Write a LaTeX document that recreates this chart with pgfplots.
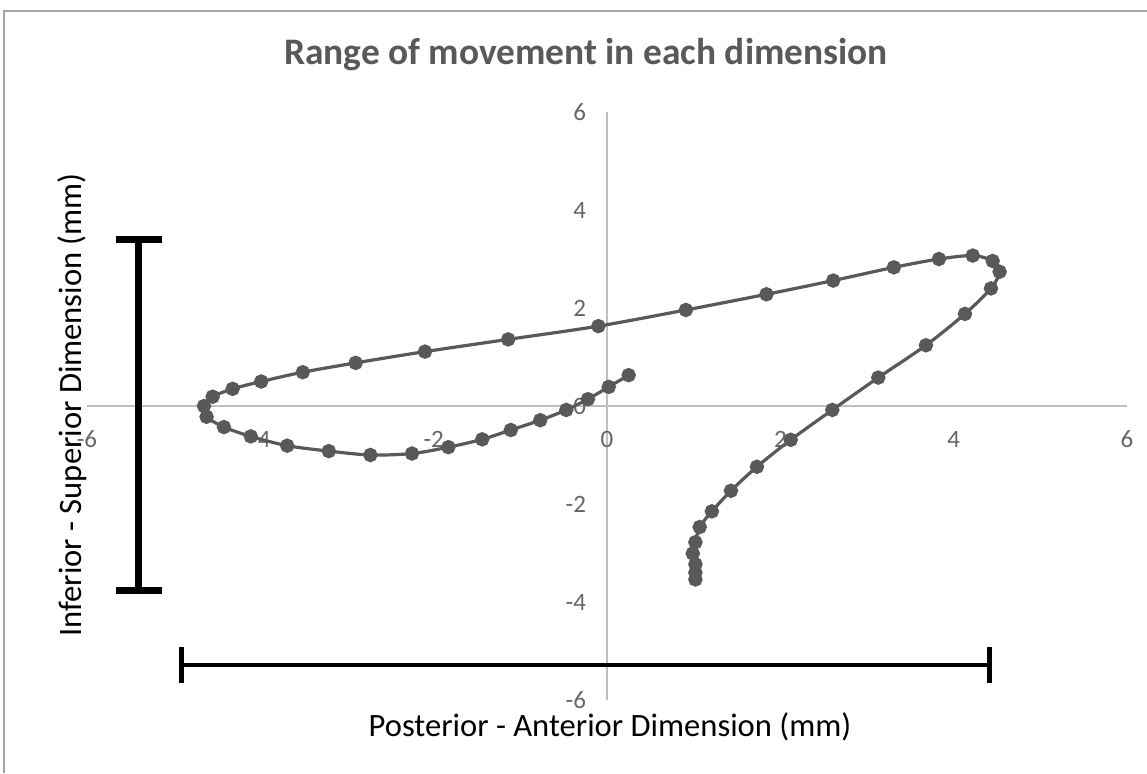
\documentclass[border=0pt]{standalone}
\usepackage{pgfplots}
\pgfplotsset{compat=1.18}
\usepackage{fontspec}
\setmainfont{Carlito}
\definecolor{txtgray}{HTML}{595959}
\definecolor{tickgray}{HTML}{666666}
\definecolor{axgray}{HTML}{BFBFBF}
\definecolor{datgray}{HTML}{595959}
\definecolor{bordergray}{HTML}{A6A6A6}
\begin{document}
\begin{tikzpicture}[x=1pt,y=1pt]
\useasboundingbox (0,0) rectangle (573.5,386.5);
\fill[white] (0,0) rectangle (573.5,386.5);
\draw[bordergray, line width=0.8pt] (2,0) -- (2,381) -- (573.5,381);
\begin{axis}[
  at={(43.5pt,36.5pt)}, anchor=south west,
  scale only axis, width=520pt, height=294pt,
  xmin=-6, xmax=6, ymin=-6, ymax=6,
  axis lines=middle,
  axis line style={-, axgray, line width=1pt},
  xtick={-6,-4,...,6}, ytick={-6,-4,...,6},
  major tick length=0pt,
  hide obscured x ticks=false, hide obscured y ticks=false,
  tick label style={font=\fontsize{12.5}{14}\selectfont, text=tickgray},
  /pgf/number format/assume math mode=true,
  xticklabel style={anchor=north, yshift=-9pt},
  yticklabel style={anchor=east, xshift=-7pt},
  clip=false,
]
\addplot[datgray, line width=1.6pt, smooth, tension=0.5, mark=*, mark size=2.8pt, mark options={datgray, fill=datgray}] coordinates {
(1.02,-3.54) (1.02,-3.40) (1.02,-3.23) (0.99,-3.01) (1.02,-2.78) (1.07,-2.47)
(1.21,-2.15) (1.43,-1.73) (1.73,-1.24) (2.12,-0.69) (2.60,-0.08) (3.13,0.58)
(3.68,1.24) (4.13,1.88) (4.43,2.40) (4.53,2.74) (4.45,2.96) (4.22,3.07)
(3.83,3.00) (3.31,2.83) (2.61,2.56) (1.84,2.28) (0.91,1.96) (-0.10,1.63)
(-1.14,1.36) (-2.10,1.11) (-2.90,0.88) (-3.51,0.69) (-3.99,0.50) (-4.32,0.35)
(-4.55,0.19) (-4.65,0.00) (-4.62,-0.22) (-4.42,-0.43) (-4.11,-0.62) (-3.69,-0.81)
(-3.21,-0.92) (-2.73,-1.00) (-2.25,-0.97) (-1.83,-0.84) (-1.44,-0.68) (-1.11,-0.49)
(-0.77,-0.29) (-0.47,-0.08) (-0.22,0.14) (0.02,0.39) (0.25,0.63)
};
% vertical range bar
\addplot[black, line width=3.5pt, mark=none] coordinates {(-5.41,3.39) (-5.41,-3.76)};
\addplot[black, line width=3.5pt, mark=none] coordinates {(-5.66,3.39) (-5.14,3.39)};
\addplot[black, line width=3.5pt, mark=none] coordinates {(-5.66,-3.76) (-5.14,-3.76)};
% horizontal range bar
\addplot[black, line width=2pt, mark=none] coordinates {(-4.91,-5.29) (4.41,-5.29)};
\addplot[black, line width=2.5pt, mark=none] coordinates {(-4.91,-4.92) (-4.91,-5.65)};
\addplot[black, line width=2.5pt, mark=none] coordinates {(4.41,-4.92) (4.41,-5.65)};
\end{axis}
\node[text=txtgray, font=\fontsize{18.7}{22}\selectfont\bfseries] at (293,359) {Range of movement in each dimension};
\node[text=black, font=\fontsize{16.3}{19}\selectfont] at (305,23) {Posterior - Anterior Dimension (mm)};
\node[text=black, font=\fontsize{16.3}{19}\selectfont, rotate=90] at (36,184) {Inferior - Superior Dimension (mm)};
\end{tikzpicture}
\end{document}
